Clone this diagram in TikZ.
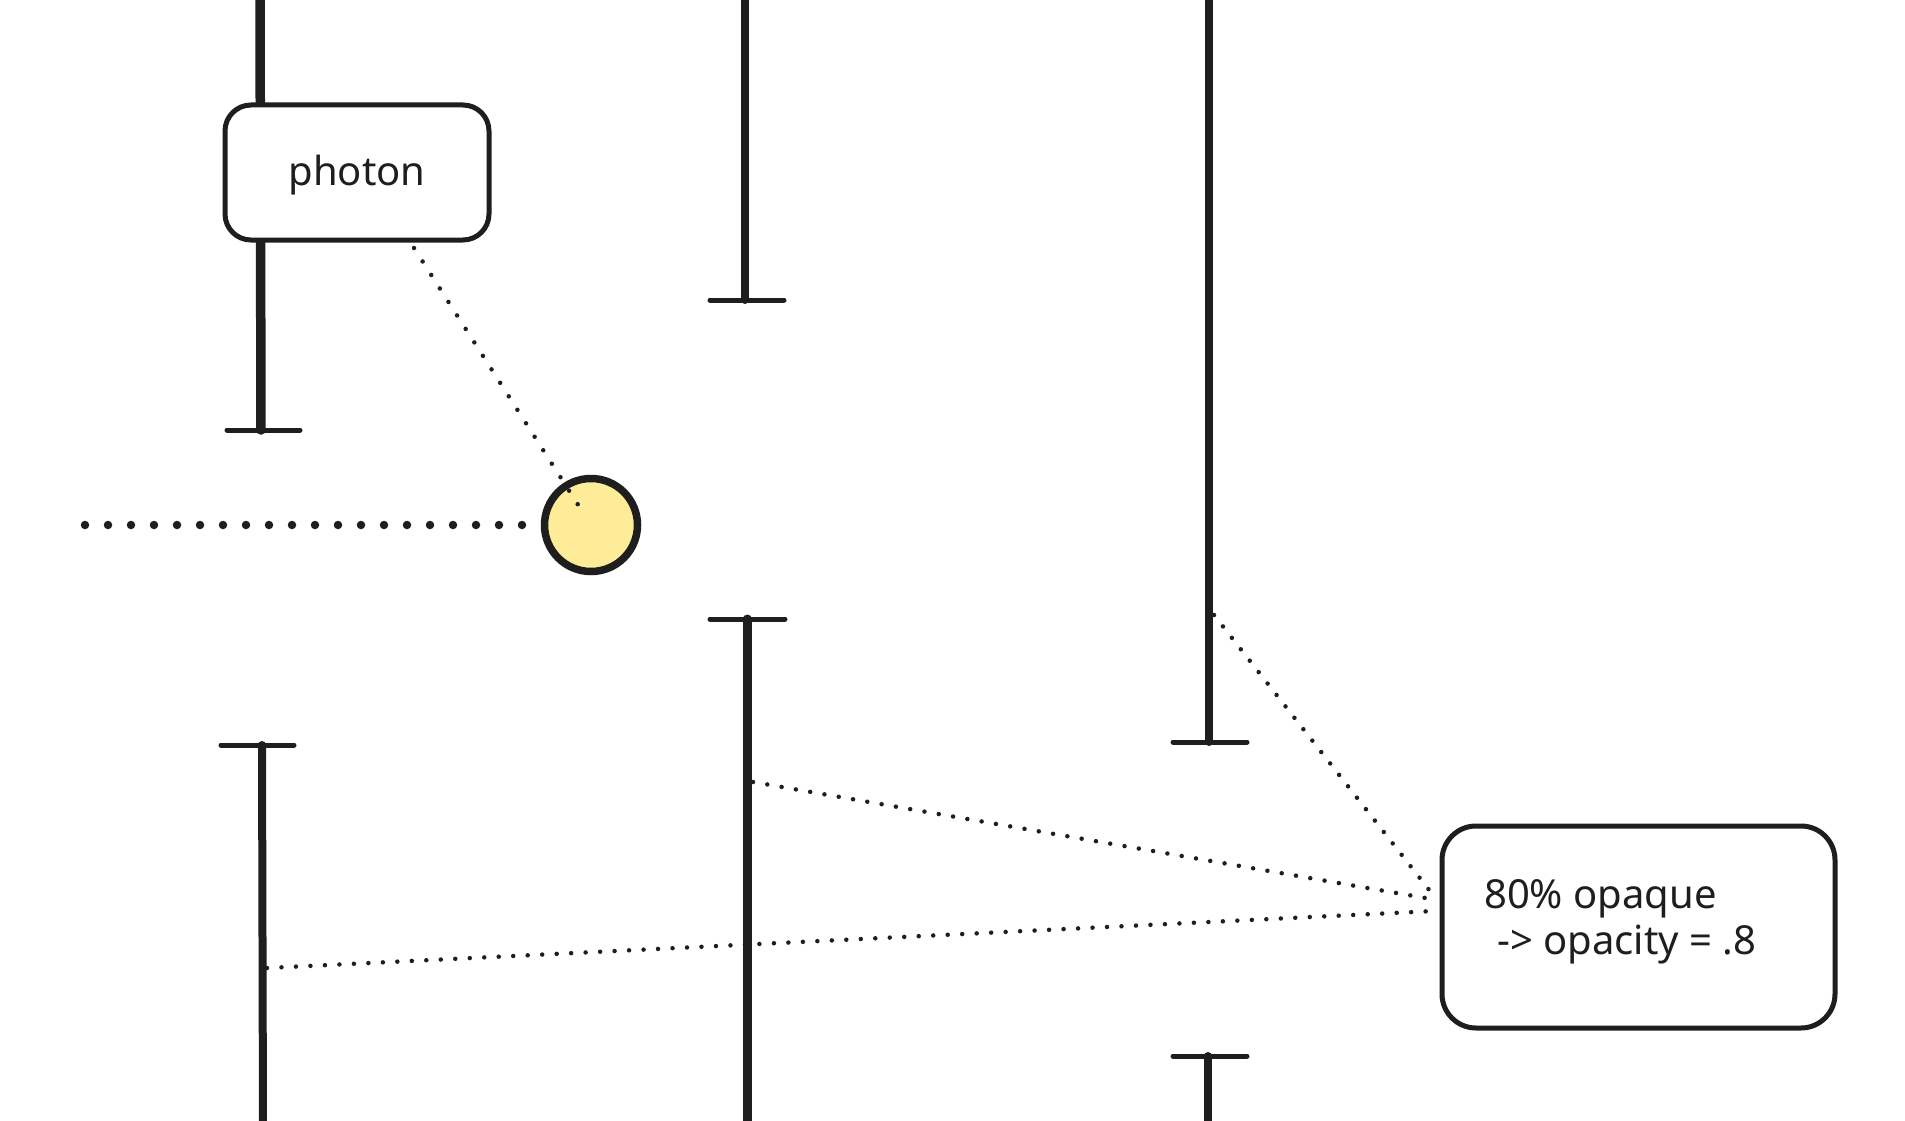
\documentclass[tikz,border=0pt]{standalone}
\usepackage{fontspec}
\setmainfont{Noto Sans}
\definecolor{ink}{HTML}{1E1E1E}
\definecolor{yel}{HTML}{FFEC99}
\begin{document}
\begin{tikzpicture}[x=1pt,y=-1pt,
 rail/.style={draw=ink,line width=8pt,line cap=round},
 railbar/.style={draw=ink,line width=5pt,line cap=round},
 dots/.style={draw=ink,line width=4.5pt,line cap=round,dash pattern=on 0pt off 14.5pt},
 bigdots/.style={draw=ink,line width=8.5pt,line cap=round,dash pattern=on 0pt off 23pt},
 box/.style={draw=ink,line width=5pt,rounded corners=26pt,fill=white,inner sep=0pt},
 txt/.style={text=ink,font=\fontsize{40}{48}\selectfont,inner sep=0pt}
 ]
\useasboundingbox[fill=white] (0,0) rectangle (1905,1121);
% rails
\coordinate (a1t) at (260,-10); \coordinate (a1b) at (261,430);
\coordinate (a1l) at (227,430); \coordinate (a1r) at (300,430);
\draw[rail,line width=9.5pt] (a1t) -- (a1b); \draw[railbar] (a1l) -- (a1r);
\coordinate (a2t) at (262,745); \coordinate (a2b) at (263,1131);
\coordinate (a2l) at (221,745); \coordinate (a2r) at (294,745);
\draw[rail] (a2t) -- (a2b); \draw[railbar] (a2l) -- (a2r);
\coordinate (b1t) at (745,-10); \coordinate (b1b) at (745,300);
\coordinate (b1l) at (710,300); \coordinate (b1r) at (784,300);
\draw[rail] (b1t) -- (b1b); \draw[railbar] (b1l) -- (b1r);
\coordinate (b2t) at (747,619); \coordinate (b2b) at (747,1131);
\coordinate (b2l) at (710,619); \coordinate (b2r) at (785,619);
\draw[rail,line width=9pt] (b2t) -- (b2b); \draw[railbar] (b2l) -- (b2r);
\coordinate (c1t) at (1209,-10); \coordinate (c1b) at (1209,742);
\coordinate (c1l) at (1173,742); \coordinate (c1r) at (1247,742);
\draw[rail] (c1t) -- (c1b); \draw[railbar] (c1l) -- (c1r);
\coordinate (c2t) at (1208,1056); \coordinate (c2b) at (1208,1131);
\coordinate (c2l) at (1173,1056); \coordinate (c2r) at (1247,1056);
\draw[rail] (c2t) -- (c2b); \draw[railbar] (c2l) -- (c2r);
% photon label
\node[box,minimum width=264pt,minimum height=135pt] (pbox) at (357,172.5) {};
\node[txt,anchor=base] (ptxt) at (357,185) {photon};
% photon circle
\node[circle,draw=ink,fill=yel,line width=7.5pt,minimum size=93pt,inner sep=0pt] (ph) at (591,525) {};
\coordinate (hl) at (85,525);
\draw[bigdots,shorten >=14pt] (hl) -- (ph.west);
\coordinate (pl) at (414,248);
\draw[dots,dash pattern=on 0pt off 16pt,shorten >=22pt] (pl) -- (ph.center);
% note
\node[box,rounded corners=34pt,minimum width=393pt,minimum height=202pt] (note) at (1638.5,927) {};
\node[txt,anchor=base west] (n1) at (1484,908) {80\% opaque};
\node[txt,anchor=base west] (n2) at (1497,954) {-> opacity = .8};
\coordinate (nA) at (1437,900); \coordinate (nB) at (1434,911);
\coordinate (c1m) at (1214,615); \coordinate (b2m) at (753,782); \coordinate (a2m) at (267,968);
\draw[dots] (c1m) -- (nA);
\draw[dots] (b2m) -- (nA);
\draw[dots] (a2m) -- (nB);
\end{tikzpicture}
\end{document}
